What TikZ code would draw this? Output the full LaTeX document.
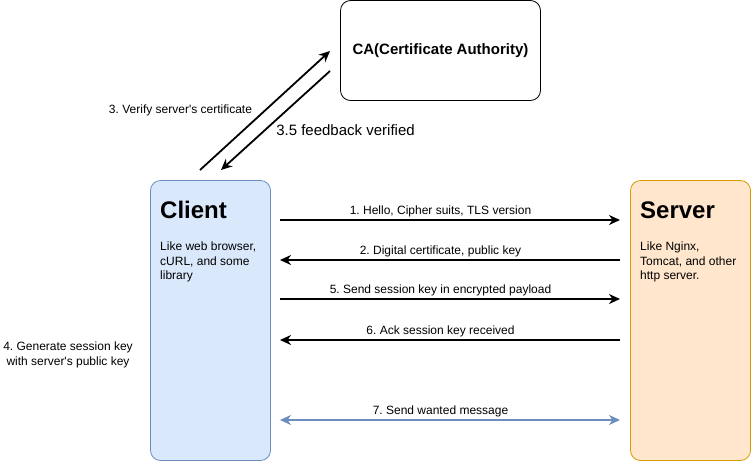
\documentclass[tikz,border=0pt]{standalone}
\usepackage{fontspec}
\setmainfont{Liberation Sans}
\usetikzlibrary{arrows.meta}
\definecolor{cfill}{HTML}{DAE8FC}
\definecolor{cline}{HTML}{6C8EBF}
\definecolor{sfill}{HTML}{FFE6CC}
\definecolor{sline}{HTML}{D79B00}
\frenchspacing

\begin{document}
\begin{tikzpicture}[x=1pt,y=-1pt,>={Stealth[length=11pt,width=10pt,inset=3.5pt]},font=\fontsize{12}{14.4}\selectfont]
\tikzstyle{box}=[draw,line width=0.8pt,rounded corners=10pt,minimum width=120pt,minimum height=280pt]
\tikzstyle{ttl}=[anchor=base west,inner sep=0pt,font=\bfseries\fontsize{24}{28}\selectfont]
\tikzstyle{txt}=[anchor=north west,inner sep=0pt,align=left]
\tikzstyle{m}=[->,line width=1.8pt]
\useasboundingbox (0,0) rectangle (751,461);
\node[box,fill=cfill,draw=cline] (client) at (210.5,320.5) {};
\node[box,fill=sfill,draw=sline] (server) at (690.5,320.5) {};
\node[box,minimum width=200pt,minimum height=100pt,fill=white,font=\bfseries\fontsize{15}{18}\selectfont] (ca) at (440.5,50.5) {CA(Certificate Authority)};
\node[ttl] (clientname) at (160,218) {Client}; \node[txt] (clientdesc) at (160,242) {Like web browser,\\cURL, and some\\library};
\node[ttl] (servername) at (640,218) {Server}; \node[txt] (serverdesc) at (640,242) {Like Nginx,\\Tomcat, and other\\http server.};
% handshake messages
\foreach \y/\t in {220/{1. Hello, Cipher suits, TLS version},260/{2. Digital certificate, public key},299/{5. Send session key in encrypted payload},340/{6. Ack session key received},420/{7. Send wanted message}} {
 \coordinate (l\y) at (280,\y); \coordinate (r\y) at (620,\y);
 \node[anchor=base,inner sep=0pt] (t\y) at (440.5,\y-6) {\t};
}
\foreach \y/\a/\b in {220/l/r,260/r/l,299/l/r,340/r/l} \draw[m] (\a\y) -- (\b\y);
\draw[m,<->,cline] (l420) -- (r420);
% certificate check with the CA
\coordinate (q0) at (200,170); \coordinate (q1) at (330,51);
\coordinate (f0) at (330,71); \coordinate (f1) at (221,170);
\draw[m] (q0) -- (q1); \draw[m] (f0) -- (f1);
\node (verify) at (180.5,110) {3. Verify server\textquotesingle s certificate};
\node[font=\fontsize{15}{18}\selectfont] (feedback) at (345.5,130) {3.5 feedback verified};
\node[align=center] (gen) at (68,355) {4. Generate session key\\with server\textquotesingle s public key};
\end{tikzpicture}
\end{document}
